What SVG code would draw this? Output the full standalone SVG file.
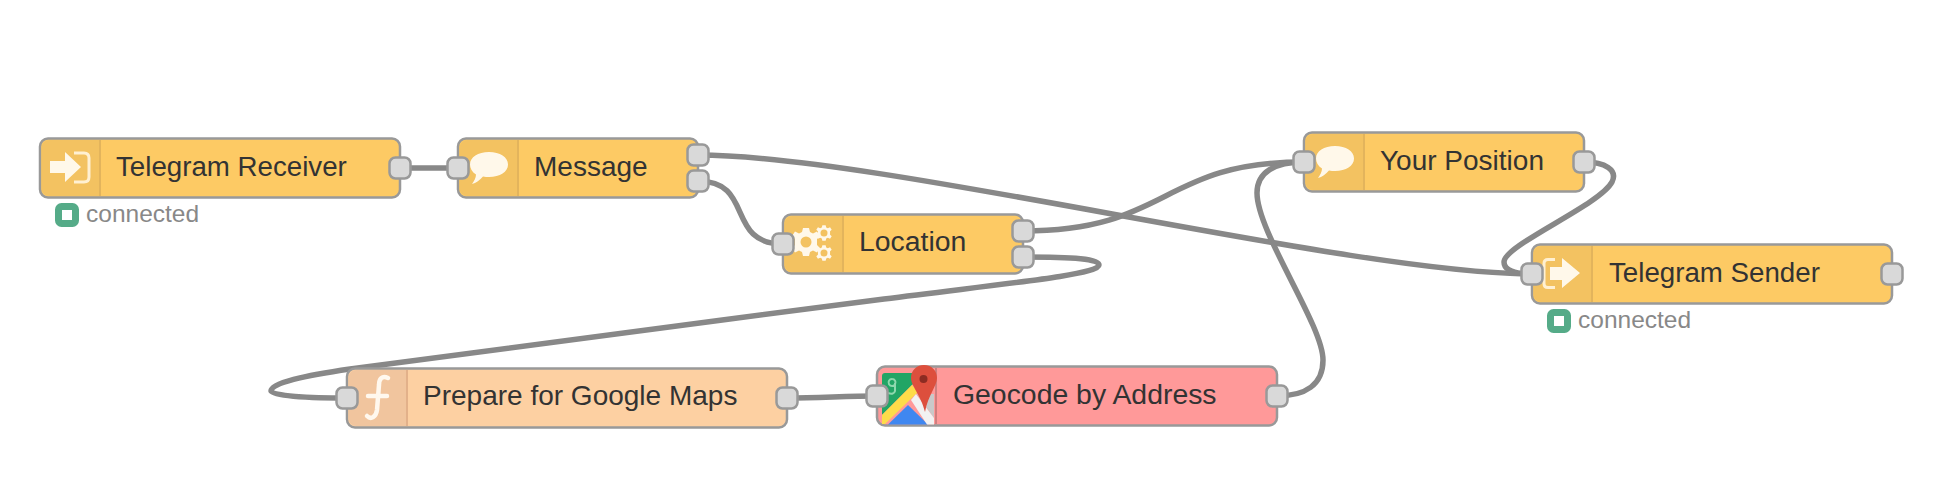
<svg xmlns="http://www.w3.org/2000/svg" width="1950" height="488" viewBox="0 0 1950 488">
<style>
.wire{fill:none;stroke:#888;stroke-width:5.500;stroke-linecap:round}
.box{stroke:#999;stroke-width:2.500}
.y{fill:#fdca64}.ys{fill:#f3c261}.dv{stroke:#e3b45c;stroke-width:2;fill:none}
.port{fill:#d9d9d9;stroke:#999;stroke-width:2.500}
.lbl{font-family:"Liberation Sans",Arial,sans-serif;font-size:28px;fill:#333}
.st{font-family:"Liberation Sans",Arial,sans-serif;font-size:24.500px;fill:#888}
.ic{fill:#fff8ea}.icl{fill:none;stroke:#fff0d2;stroke-width:3}
.dot{fill:#fff;stroke:#55ab88;stroke-width:7}
</style>
<defs>
<rect id="p" x="-10.500" y="-10.500" width="21" height="21" rx="6" class="port"/>
<path id="bubble" d="M0 12.500C0 5 8 0 19 0C30 0 38 5 38 12.500C38 20 30 25 19 25C17 25 15 25 13 24.500C10 28 6 31 2 32C4 29 6 26 6 22.500C2 20 0 16 0 12.500Z" class="ic"/>
<path id="gear" d="M-3 -14H3L4 -10L7 -8.500L11 -10.500L14 -6L11 -3L11 3L14 6L11 10.500L7 8.500L4 10L3 14H-3L-4 10L-7 8.500L-11 10.500L-14 6L-11 3L-11 -3L-14 -6L-11 -10.500L-7 -8.500L-4 -10Z" class="ic"/>
</defs>
<g id="connectors">
<path class="wire" d="M400 168H458"/>
<path class="wire" d="M698 155C880 155 1350 274 1532 274"/>
<path class="wire" d="M698 181C755 181 725 244 783 244"/>
<path class="wire" d="M1023 231C1170 231 1160 162 1304 162"/>
<path class="wire" d="M1023 257C1075 257 1099 259 1099 265C1099 275 1000 284 884 299C700 323 480 351 350 369C305 375.500 271 383 271 391C271 396 310 398 347 398"/>
<path class="wire" d="M787 398C820 398 845 396 877 396"/>
<path class="wire" d="M1277 396C1305 396 1323 385 1323 360C1323 325 1257 232 1257 193C1257 172 1275 162 1304 162"/>
<path class="wire" d="M1584 162C1605 162 1618 170 1612 182C1600 205 1504 245 1504 262C1504 270 1515 274 1532 274"/>
</g>
<g id="telegram-receiver">
<rect class="box y" x="40" y="138.500" width="360" height="59" rx="8"/>
<path class="ys" d="M41.500 147a8 8 0 0 1 8-7H100V196H49.500a8 8 0 0 1-8-7Z"/>
<path class="dv" d="M100 140V196"/>
<path class="ic" d="M50 161H65V152L81 167L65 182V173H50Z"/>
<path class="icl" d="M74 153H84Q89 153 89 158V177Q89 182 84 182H74"/>
<text class="lbl" x="116" y="176" style="font-size:27.700px">Telegram Receiver</text>
<use href="#p" x="400" y="168"/>
<rect class="dot" x="58.500" y="206.500" width="17" height="17" rx="3"/>
<text class="st" x="86" y="222">connected</text>
</g>
<g id="message">
<rect class="box y" x="458" y="138.500" width="240" height="59" rx="8"/>
<path class="ys" d="M459.500 147a8 8 0 0 1 8-7H518V196H467.500a8 8 0 0 1-8-7Z"/>
<path class="dv" d="M518 140V196"/>
<use href="#bubble" x="470" y="152"/>
<text class="lbl" x="534" y="176">Message</text>
<use href="#p" x="458" y="168"/>
<use href="#p" x="698" y="155"/>
<use href="#p" x="698" y="181"/>
</g>
<g id="location">
<rect class="box y" x="783" y="214.500" width="240" height="59" rx="8"/>
<path class="ys" d="M784.500 223a8 8 0 0 1 8-7H843V272H792.500a8 8 0 0 1-8-7Z"/>
<path class="dv" d="M843 216V272"/>
<use href="#gear" x="806" y="242"/>
<circle cx="806" cy="242" r="5.500" fill="#f3c261"/>
<use href="#gear" transform="translate(824 233) scale(.55)"/>
<circle cx="824" cy="233" r="3.500" fill="#f3c261"/>
<use href="#gear" transform="translate(824 253) scale(.55)"/>
<circle cx="824" cy="253" r="3.500" fill="#f3c261"/>
<text class="lbl" x="859" y="251" style="font-size:28.400px">Location</text>
<use href="#p" x="783" y="244"/>
<use href="#p" x="1023" y="231"/>
<use href="#p" x="1023" y="257"/>
</g>
<g id="your-position">
<rect class="box y" x="1304" y="132.500" width="280" height="59" rx="8"/>
<path class="ys" d="M1305.500 141a8 8 0 0 1 8-7H1364V190H1313.500a8 8 0 0 1-8-7Z"/>
<path class="dv" d="M1364 134V190"/>
<use href="#bubble" x="1316" y="146"/>
<text class="lbl" x="1380" y="170">Your Position</text>
<use href="#p" x="1304" y="162"/>
<use href="#p" x="1584" y="162"/>
</g>
<g id="telegram-sender">
<rect class="box y" x="1532" y="244.500" width="360" height="59" rx="8"/>
<path class="ys" d="M1533.500 253a8 8 0 0 1 8-7H1592V302H1541.500a8 8 0 0 1-8-7Z"/>
<path class="dv" d="M1592 246V302"/>
<path class="ic" d="M1550 267H1562V258L1580 273L1562 288V280H1550Z"/>
<path class="icl" d="M1555 259.500H1548Q1544 259.500 1544 263.500V283.500Q1544 287.500 1548 287.500H1555"/>
<text class="lbl" x="1609" y="282" style="font-size:27.700px">Telegram Sender</text>
<use href="#p" x="1532" y="274"/>
<use href="#p" x="1892" y="274"/>
<rect class="dot" x="1550.500" y="312.500" width="17" height="17" rx="3"/>
<text class="st" x="1578" y="328">connected</text>
</g>
<g id="prepare-for-google-maps">
<rect class="box" fill="#fdd0a2" x="347" y="368.500" width="440" height="59" rx="8"/>
<path fill="#f1c59e" d="M348.500 377a8 8 0 0 1 8-7H407V426H356.500a8 8 0 0 1-8-7Z"/>
<path stroke="#e3b18a" stroke-width="2" fill="none" d="M407 370V426"/>
<path fill="none" stroke="#fff8ee" stroke-width="4.500" stroke-linecap="round" d="M388 378C382 375 379 379 379 385L377 410C376 417 371 420 367 416M368 396H387"/>
<text class="lbl" x="423" y="405">Prepare for Google Maps</text>
<use href="#p" x="347" y="398"/>
<use href="#p" x="787" y="398"/>
</g>
<g id="geocode-by-address">
<rect class="box" fill="#ff9999" x="877" y="366.500" width="400" height="59" rx="8"/>
<path d="M882 376Q882 373 885 373H915V382L882 415Z" fill="#22a565"/>
<path d="M882 415L912 385L918 392L885 424H882Z" fill="#fddc49"/>
<path d="M888 424.500L908 405L928 424.500Z" fill="#3f87f0"/>
<path d="M917 394H934V418Z" fill="#c9c9c9"/>
<path d="M911 400L916 394L934 418V424.500H927Z" fill="#f2f2f2"/>
<path stroke="#cf7f7f" stroke-width="2" fill="none" d="M936 368V424"/>
<path d="M924 365C932 365 937 371 937 378C937 386 928 395 925 412C921 395 911 386 911 378C911 371 916 365 924 365Z" fill="#dd4f3d"/>
<circle cx="923.500" cy="379" r="4" fill="#8c2c22"/>
<path fill="none" stroke="#8fd8ae" stroke-width="2" d="M892 379a3.500 3.500 0 1 0 .1 0M895 383V391Q894 395 888 393"/>
<text class="lbl" x="953" y="404" style="font-size:28.400px">Geocode by Address</text>
<use href="#p" x="877" y="396"/>
<use href="#p" x="1277" y="396"/>
</g>
</svg>
